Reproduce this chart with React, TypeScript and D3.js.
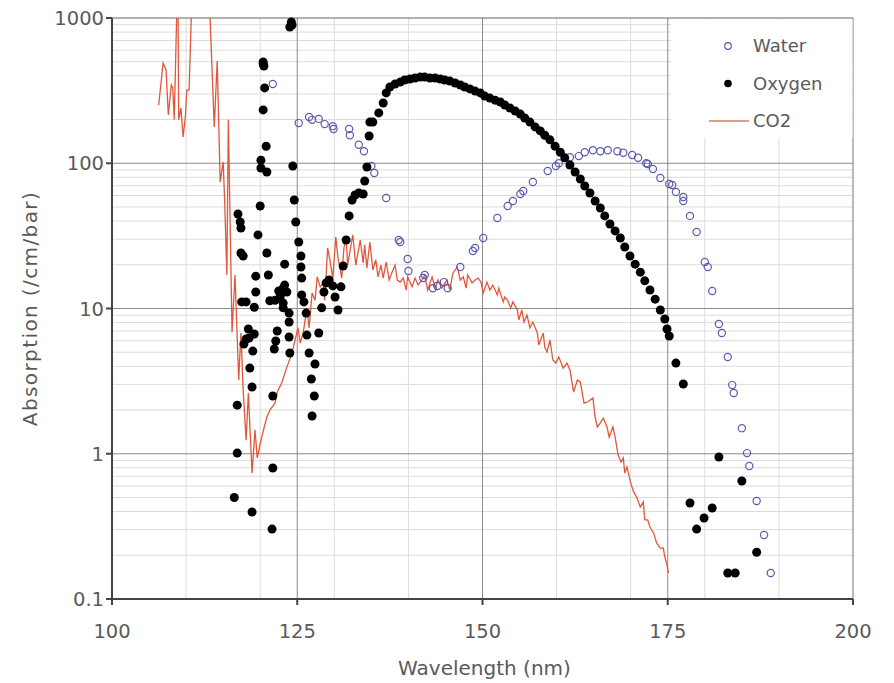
import React from "react";
import * as d3 from "d3";

// ---------- data (wavelength nm, absorption /cm/bar) ----------
const waterData: [number, number][] = [
  [121.7, 351], [125.2, 189], [126.6, 208], [127.0, 199], [127.9, 202], [128.7, 186], [129.8, 180], [129.9, 172],
  [132.0, 172], [132.1, 156], [133.3, 134], [134.0, 121], [135.0, 95.7], [135.4, 85.7], [137.0, 57.7], [138.7, 29.6],
  [138.9, 28.7], [139.9, 21.9], [140.0, 18.1], [142.0, 16.2], [142.2, 17.0], [143.3, 13.8], [143.9, 14.3], [144.8, 15.2],
  [145.3, 13.8], [147.0, 19.3], [148.7, 24.9], [149.0, 26.1], [150.1, 30.6], [152.0, 42.0], [153.4, 50.8], [154.1, 55.0],
  [155.1, 61.4], [155.5, 64.4], [156.8, 74.3], [158.8, 88.5], [159.9, 95.7], [160.3, 100], [161.8, 110], [163.0, 112],
  [163.8, 119], [164.9, 123], [165.9, 121], [166.9, 123], [168.2, 121], [169.0, 118], [170.2, 114], [171.0, 109],
  [172.1, 100], [172.3, 98.8], [173.0, 91.2], [174.0, 79.1], [175.2, 72.0], [175.6, 70.8], [176.1, 63.4], [177.1, 58.6],
  [177.1, 55.0], [178.0, 43.4], [178.9, 33.6], [180.0, 20.9], [180.4, 19.3], [181.0, 13.2], [181.9, 7.82], [182.3, 6.78],
  [183.1, 4.63], [183.7, 2.97], [183.9, 2.62], [185.0, 1.50], [185.7, 1.01], [186.0, 0.824], [187.0, 0.473], [188.0, 0.276],
  [188.9, 0.151],
];

const oxygenScatter: [number, number][] = [
  [116.5, 0.50], [116.9, 2.16], [116.9, 1.01], [117.0, 44.7], [117.3, 39.4], [117.4, 35.8], [117.4, 24.1], [117.7, 23.0],
  [117.5, 11.1], [118.1, 11.1], [117.8, 5.69], [118.1, 6.17], [118.4, 7.22], [118.5, 6.26], [118.6, 3.89], [118.9, 2.88],
  [118.9, 0.397], [119.0, 5.09], [119.2, 10.2], [119.2, 6.67], [119.4, 16.7], [119.4, 13.0],
  [119.7, 32.1], [120.0, 50.8], [120.1, 105], [120.1, 92.7], [120.9, 87.1], [120.4, 498], [120.4, 482], [120.5, 467],
  [120.6, 330], [120.4, 233], [120.8, 131], [120.9, 24.1], [121.1, 17.0], [121.3, 11.3], [122.0, 11.4], [122.7, 12.0],
  [122.3, 7.00], [122.1, 5.97], [121.9, 5.26], [121.7, 2.50], [121.7, 0.798], [121.6, 0.303], [123.3, 20.2], [123.3, 14.5],
  [123.1, 13.8], [123.6, 13.0], [122.5, 13.2], [123.1, 10.9], [123.1, 10.1], [123.9, 9.30], [123.9, 8.07], [123.9, 6.36],
  [124.0, 4.94],
  [124.2, 938], [124.3, 895], [124.0, 867], [124.4, 95.7], [124.6, 55.8], [124.8, 39.4], [125.2, 28.7], [125.5, 23.0],
  [125.5, 19.3], [125.6, 16.2], [125.6, 12.4], [125.9, 11.1], [126.2, 9.30], [126.3, 6.56], [126.6, 4.94], [127.4, 4.15],
  [126.9, 3.27], [127.3, 2.50], [127.0, 1.82],
];

const oxygenBand: [number, number][] = [
  [127.9, 6.78], [128.3, 10.1], [128.6, 13.0], [128.9, 15.0], [129.3, 15.7], [129.8, 14.3], [130.1, 12.0], [130.5, 9.77],
  [130.9, 14.1], [131.2, 19.6], [131.6, 29.6], [132.0, 43.4], [132.4, 55.8], [132.8, 60.4], [133.3, 62.4], [133.9, 61.4],
  [134.1, 75.5], [134.4, 94.2], [134.7, 154], [134.8, 192], [135.2, 192], [136.0, 222], [136.6, 260], [137.0, 305],
  [137.5, 335], [138.2, 351], [138.9, 362], [139.5, 374], [140.2, 380], [140.9, 386], [141.6, 392], [142.2, 392],
  [142.9, 386], [143.6, 386], [144.3, 380], [144.9, 374], [145.6, 368], [146.3, 357], [147.0, 346], [147.6, 335],
  [148.3, 325], [149.0, 314], [149.7, 305], [150.3, 290], [151.0, 281], [151.7, 272], [152.4, 264], [153.0, 252],
  [153.7, 240], [154.4, 229], [155.1, 218], [155.7, 205], [156.4, 192], [157.1, 178], [157.8, 167], [158.4, 156],
  [159.1, 145], [159.8, 131], [160.5, 119], [161.1, 109], [161.8, 97.2], [162.5, 87.1], [163.2, 77.9], [163.8, 69.7],
  [164.5, 62.4], [165.2, 55.0], [165.9, 49.2], [166.5, 43.4], [167.2, 38.2], [167.9, 34.2], [168.6, 30.6], [169.2, 26.5],
  [169.9, 23.0], [170.6, 20.2], [171.3, 17.8], [171.9, 15.5], [172.6, 13.4], [173.3, 11.6], [174.0, 9.77], [174.6, 8.47],
  [174.9, 7.22], [175.2, 6.47], [176.1, 4.21], [177.1, 3.02],
];

const oxygenTail: [number, number][] = [
  [181.9, 0.949], [185.0, 0.649], [178.0, 0.458], [181.0, 0.423], [179.9, 0.361], [178.9, 0.303], [187.0, 0.210],
  [183.1, 0.151], [184.1, 0.151],
];

const co2Data: [number, number][] = [
  [106.3, 252], [106.9, 490], [107.3, 439], [107.6, 215], [108.0, 346], [108.2, 330], [108.4, 199], [108.8, 1500],
  [108.9, 1500], [109.0, 199], [109.3, 240], [109.6, 152], [109.9, 208], [110.1, 319], [110.4, 319], [110.8, 1500],
  [111.3, 1500], [113.1, 1500], [113.8, 178], [114.2, 506], [114.6, 74.3], [115.0, 102], [115.2, 55.8], [115.5, 17.0],
  [115.7, 199], [116.2, 6.89], [116.6, 17.0], [117.1, 3.22], [117.4, 6.78], [117.7, 2.75], [118.1, 1.24], [118.4, 2.62],
  [118.9, 0.736], [119.3, 1.46], [119.6, 0.935], [120.2, 1.30], [120.9, 1.79], [121.3, 2.00], [122.0, 2.23], [122.3, 2.66],
  [122.9, 3.07], [123.6, 3.95], [124.3, 4.94], [124.6, 5.78], [125.1, 7.35], [125.4, 5.78], [125.8, 6.78], [126.3, 10.1],
  [126.6, 7.35], [127.0, 12.8], [127.4, 11.4], [127.7, 16.5], [128.1, 14.1], [128.5, 15.0], [128.7, 11.4], [129.1, 26.1],
  [129.4, 21.6], [129.8, 16.2], [130.2, 31.0], [130.5, 22.3], [131.0, 16.2], [131.3, 26.1], [131.6, 31.0], [131.8, 19.9],
  [132.3, 28.2], [132.5, 32.1], [132.9, 19.9], [133.5, 29.6], [133.9, 20.6], [134.1, 27.4], [134.4, 19.0], [134.8, 28.7],
  [135.2, 18.4], [135.6, 21.6], [135.9, 16.5], [136.3, 19.9], [136.6, 16.2], [137.0, 20.9], [137.4, 15.7], [137.8, 17.8],
  [138.2, 19.9], [138.5, 15.7], [138.9, 15.2], [139.3, 16.2], [139.7, 13.4], [139.9, 16.5], [140.5, 14.1], [140.9, 16.2],
  [141.3, 14.5], [141.8, 15.7], [142.2, 17.0], [142.6, 13.4], [143.2, 16.5], [143.6, 13.8], [144.0, 15.7], [144.5, 13.8],
  [145.2, 15.7], [145.6, 13.4], [146.0, 17.5], [146.6, 19.3], [147.0, 15.7], [147.4, 16.5], [147.8, 13.8], [148.0, 17.0],
  [148.6, 15.0], [149.0, 15.7], [149.4, 16.2], [149.8, 15.2], [150.1, 12.8], [150.6, 15.2], [151.0, 13.4], [151.4, 14.5],
  [152.0, 12.4], [152.2, 13.8], [152.8, 11.1], [153.0, 12.0], [153.4, 11.4], [153.8, 10.1], [154.1, 11.1], [154.7, 9.77],
  [154.9, 8.34], [155.3, 9.77], [155.6, 8.07], [156.0, 9.02], [156.4, 7.35], [156.8, 8.07], [157.4, 6.78], [157.6, 5.61],
  [158.2, 6.78], [158.4, 5.43], [158.7, 5.01], [159.1, 6.07], [159.5, 4.42], [159.9, 4.21], [160.3, 4.63], [160.9, 3.89],
  [161.4, 4.21], [161.8, 3.77], [162.3, 2.66], [162.8, 3.22], [163.2, 3.12], [163.7, 2.23], [164.2, 2.27], [164.9, 2.42],
  [165.2, 1.79], [165.5, 1.53], [165.9, 1.63], [166.3, 1.76], [166.8, 1.53], [167.1, 1.30], [167.6, 1.53], [167.9, 1.30],
  [168.3, 0.98], [168.7, 0.877], [169.0, 0.935], [169.2, 0.736], [169.5, 0.811], [170.0, 0.628], [170.4, 0.546],
  [170.8, 0.504], [171.3, 0.43], [171.7, 0.466], [171.9, 0.35], [172.3, 0.35], [172.6, 0.313], [173.1, 0.284],
  [173.5, 0.243], [174.0, 0.224], [174.4, 0.224], [174.6, 0.195], [174.9, 0.171], [175.1, 0.151],
];

const xMajorTicks = [100, 125, 150, 175, 200];
const xMinorTicks = [110, 120, 130, 140, 160, 170, 180, 190];
const yMajorTicks = [0.1, 1, 10, 100, 1000];
const yTickLabels = ["0.1", "1", "10", "100", "1000"];
const legendLabels = ["Water", "Oxygen", "CO2"];

const W = 894;
const H = 683;
const L = 112, R = 853, T = 18, B = 599;
const FONT = "'DejaVu Sans', sans-serif";
const TEXT = "#5a5a5a";
const WATER = "#5c5cac";
const CO2 = "#e2573a";

export default function App() {
  const x = d3.scaleLinear().domain([100, 200]).range([L, R]);
  const y = d3.scaleLog().domain([0.1, 1000]).range([B, T]);

  const yMinor: number[] = [];
  for (let e = -1; e < 3; e++) for (let m = 2; m <= 9; m++) yMinor.push(m * Math.pow(10, e));

  const line = d3
    .line<[number, number]>()
    .x((d) => x(d[0]))
    .y((d) => y(d[1]));

  const oxygen = [...oxygenScatter, ...oxygenBand, ...oxygenTail];

  return (
    <svg
      width={W}
      height={H}
      style={{ position: "absolute", left: 0, top: 0, display: "block", background: "#fff" }}
    >
      <defs>
        <clipPath id="plotClip">
          <rect x={L} y={T} width={R - L} height={B - T} />
        </clipPath>
      </defs>
      <rect x={0} y={0} width={W} height={H} fill="#fff" />

      {/* minor grid */}
      {yMinor.map((v, i) => (
        <line key={"ym" + i} x1={L} x2={R} y1={y(v)} y2={y(v)} stroke="#dcdcdc" strokeWidth={1} />
      ))}
      {xMinorTicks.map((v) => (
        <line key={"xm" + v} x1={x(v)} x2={x(v)} y1={T} y2={B} stroke="#dcdcdc" strokeWidth={1} />
      ))}
      {/* major grid */}
      {yMajorTicks.slice(1, 4).map((v) => (
        <line key={"yM" + v} x1={L} x2={R} y1={y(v)} y2={y(v)} stroke="#8a8a8a" strokeWidth={1} />
      ))}
      {xMajorTicks.slice(1, 4).map((v) => (
        <line key={"xM" + v} x1={x(v)} x2={x(v)} y1={T} y2={B} stroke="#8a8a8a" strokeWidth={1} />
      ))}
      {/* frame */}
      <line x1={L} x2={R} y1={T} y2={T} stroke="#666" strokeWidth={1.2} />
      <line x1={R} x2={R} y1={T} y2={B} stroke="#777" strokeWidth={1} />

      {/* CO2 line */}
      <path d={line(co2Data) || ""} fill="none" stroke={CO2} strokeWidth={1.3} clipPath="url(#plotClip)" />

      {/* Water */}
      {waterData.map((d, i) => (
        <circle key={"w" + i} cx={x(d[0])} cy={y(d[1])} r={3.6} fill="none" stroke={WATER} strokeWidth={1.2} />
      ))}

      {/* Oxygen */}
      {oxygen.map((d, i) => (
        <circle key={"o" + i} cx={x(d[0])} cy={y(d[1])} r={4.5} fill="#000" />
      ))}

      {/* legend */}
      <rect x={671} y={T + 1} width={R - 671 - 0.5} height={119} fill="#fff" />
      {legendLabels.map((lab, i) => {
        const cy = 46 + i * 37.5;
        return (
          <g key={lab}>
            {i === 0 && <circle cx={728} cy={cy} r={3.3} fill="none" stroke={WATER} strokeWidth={1.2} />}
            {i === 1 && <circle cx={728} cy={cy} r={3.8} fill="#000" />}
            {i === 2 && <line x1={709} x2={749} y1={cy} y2={cy} stroke="#e39a85" strokeWidth={2} />}
            <text x={753} y={cy} dy="0.35em" fontFamily={FONT} fontSize={18} fill={TEXT}>
              {lab}
            </text>
          </g>
        );
      })}

      {/* axes */}
      <line x1={L} x2={L} y1={T} y2={B} stroke="#444" strokeWidth={2} />
      <line x1={L} x2={R} y1={B} y2={B} stroke="#444" strokeWidth={2} />
      {yMajorTicks.map((v, i) => (
        <g key={"yt" + v}>
          <line x1={L - 6} x2={L} y1={y(v)} y2={y(v)} stroke="#444" strokeWidth={2} />
          <text x={L - 8} y={y(v)} dy="0.36em" textAnchor="end" fontFamily={FONT} fontSize={19.5} fill={TEXT}>
            {yTickLabels[i]}
          </text>
        </g>
      ))}
      {xMajorTicks.map((v) => (
        <g key={"xt" + v}>
          <line x1={x(v)} x2={x(v)} y1={B} y2={B + 6} stroke="#444" strokeWidth={2} />
          <text x={x(v)} y={638} textAnchor="middle" fontFamily={FONT} fontSize={19.5} fill={TEXT}>
            {v}
          </text>
        </g>
      ))}
      <text x={(L + R) / 2 + 2} y={675} textAnchor="middle" fontFamily={FONT} fontSize={20} fill={TEXT}>
        Wavelength (nm)
      </text>
      <text
        transform={`translate(37, ${(T + B) / 2}) rotate(-90)`}
        textAnchor="middle"
        fontFamily={FONT}
        fontSize={20}
        letterSpacing={1.4}
        fill={TEXT}
      >
        Absorption (/cm/bar)
      </text>
    </svg>
  );
}
